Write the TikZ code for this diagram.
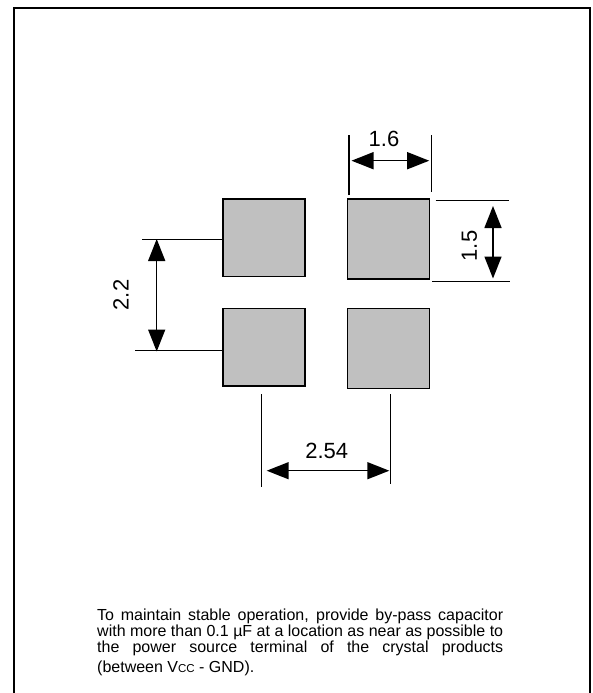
\documentclass[tikz,border=0pt]{standalone}
\usepackage{fontspec}
\setmainfont{Liberation Sans}
\usetikzlibrary{calc,arrows.meta}
\definecolor{padgray}{RGB}{192,192,192}
\tikzset{
  pad/.style={draw,fill=padgray,line width=1.4pt,rectangle,inner sep=0pt,minimum width=82pt,anchor=north},
  extline/.style={line width=1.1pt},
  dimline/.style={line width=1.5pt,{Triangle[length=22pt,width=17pt]}-{Triangle[length=22pt,width=17pt]}},
  dimlabel/.style={font=\fontsize{22}{24}\selectfont,inner sep=0pt}
}

\begin{document}
\begin{tikzpicture}[x=1pt,y=-1pt]
  \useasboundingbox (0,0) rectangle (592,693);

  % frame, open at the bottom
  \draw[line width=2.2pt] (14.3,700) -- (14.3,8) -- (589.7,8) -- (589.7,700);

  % the four pads
  \foreach \col/\cx/\h in {l/264/77.5,r/388.3/80}
  {
    \foreach \row/\cy in {t/198.3,b/307.7}
    {
      \node [pad,minimum height=\h pt] at(\cx,\cy) (pad_\row\col) {};
    }
  }

  % extension lines
  \draw[extline] ($(pad_tr.north west)+(2.4,-3.3)$) -- ++(0,-60);
  \draw[extline] ($(pad_tr.north east)+(1.7,-6.6)$) -- ++(0,-56.7);
  \draw[extline] ($(pad_tr.north east)+(5.7,2.4)$) -- ++(73.3,0);
  \draw[extline] ($(pad_tr.south east)+(2.4,1.7)$) -- ++(77.3,0);
  \draw[extline] ($(pad_tl.west)+(0,1.3)$) -- ++(-80,0);
  \draw[extline] ($(pad_bl.west)+(0,3.5)$) -- ++(-87,0);
  \draw[extline] ($(pad_bl.south)+(-2.7,7.8)$) -- ++(0,92.7);
  \draw[extline] ($(pad_br.south)+(2.4,5.3)$) -- ++(0,89.7);

  % dimension arrows
  \coordinate (d16_l) at (351.5,160.7);
  \coordinate (d16_r) at (429.2,160.7);
  \coordinate (d15_t) at (493,206);
  \coordinate (d15_b) at (493,278.5);
  \coordinate (d22_t) at (156.7,239);
  \coordinate (d22_b) at (156.7,351.5);
  \coordinate (d254_l) at (266.7,470.7);
  \coordinate (d254_r) at (389.3,470.7);

  \draw[dimline] (d16_l) -- (d16_r);
  \draw[dimline] (d15_t) -- (d15_b);
  \draw[dimline] (d22_t) -- (d22_b);
  \draw[dimline] (d254_l) -- (d254_r);

  \node [dimlabel] at(384,139) (lbl_16) {1.6};
  \node [dimlabel,rotate=90] at(469.5,246) (lbl_15) {1.5};
  \node [dimlabel,rotate=90] at(121,295) (lbl_22) {2.2};
  \node [dimlabel] at(326.7,451) (lbl_254) {2.54};

  % note
  \node [anchor=base west,inner sep=0pt,text width=406pt,align=justify,font=\fontsize{16}{14.8}\selectfont] at(97,620.7) (note) {To maintain stable operation, provide by-pass capacitor\linebreak with more than 0.1 µF at a location as near as possible to\linebreak the power source terminal of the crystal products\vspace{4.5pt}\linebreak (between V{\fontsize{11.5}{11.5}\selectfont CC} - GND).};
\end{tikzpicture}
\end{document}
